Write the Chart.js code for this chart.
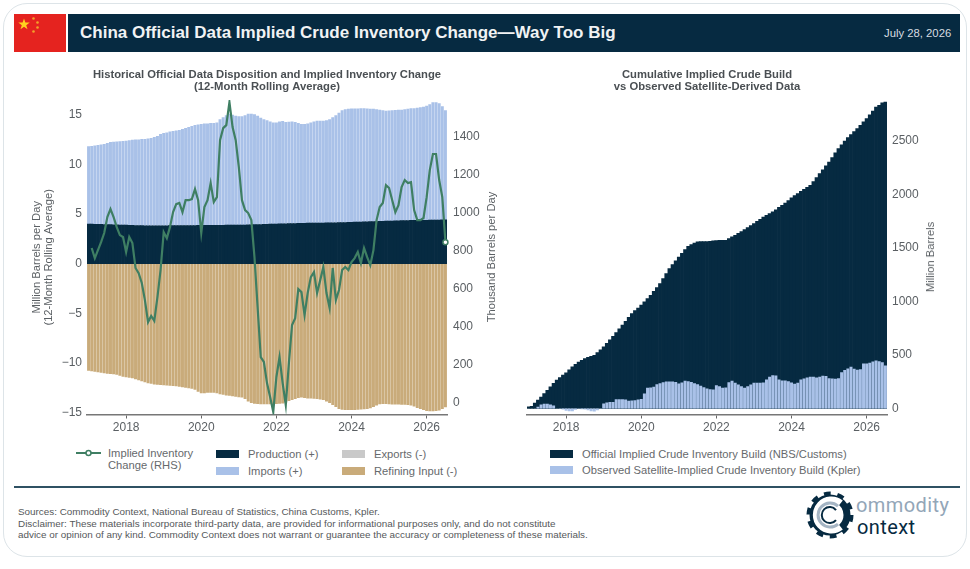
<!DOCTYPE html>
<html>
<head>
<meta charset="utf-8">
<title>China Official Data Implied Crude Inventory Change</title>
<script src="https://cdn.jsdelivr.net/npm/chart.js@4/dist/chart.umd.min.js"></script>
<style>
	html, body { margin: 0; padding: 0; background: #fff; }
	body { width: 970px; height: 569px; position: relative; overflow: hidden; font-family: "Liberation Sans", Arial, sans-serif; color: #5a5f63; }
	.abs { position: absolute; white-space: nowrap; }
	#frame { left: 3px; top: 3px; width: 962px; height: 552px; border: 1px solid #dde4e8; border-radius: 24px; box-sizing: content-box; }
	#bar { left: 68px; top: 13.5px; width: 892px; height: 38.5px; background: #062a41; }
	#titulo { left: 80px; top: 24px; font-size: 17px; line-height: 18px; font-weight: bold; color: #f1f3f4; }
	#data { left: 884px; top: 27px; font-size: 11.3px; line-height: 12px; color: #d6dce0; }
	#regua { left: 14px; top: 486px; width: 946px; height: 2px; background: #2f5163; }
	canvas { position: absolute; }
	.leg { font-size: 11.2px; line-height: 12px; color: #66696c; }
	.sw { position: absolute; width: 23px; height: 8px; }
	.axt { font-size: 11.2px; line-height: 12px; color: #5a5f63; transform: translate(-50%, -50%) rotate(-90deg); }
	.foot { font-size: 9.9px; line-height: 11px; color: #55585a; }
</style>
</head>
<body>
<div class="abs" id="frame"></div>
<svg class="abs" style="left:14px;top:13.5px" width="52" height="38.5" viewBox="0 0 52 38.5">
	<rect width="52" height="38.5" fill="#e5231f"/>
	<polygon fill="#ffd21f" points="10,4.5 11.4,8.6 15.7,8.6 12.2,11.2 13.5,15.3 10,12.8 6.5,15.3 7.8,11.2 4.3,8.6 8.6,8.6"/>
	<circle cx="19.5" cy="4.5" r="1.3" fill="#f2a32a"/>
	<circle cx="23.5" cy="8.5" r="1.3" fill="#f2a32a"/>
	<circle cx="23.5" cy="13.5" r="1.3" fill="#f2a32a"/>
	<circle cx="19.5" cy="17.5" r="1.3" fill="#f2a32a"/>
</svg>
<div class="abs" id="bar"></div>
<div class="abs" id="titulo">China Official Data Implied Crude Inventory Change—Way Too Big</div>
<div class="abs" id="data">July 28, 2026</div>

<canvas id="chartDisposition" width="520" height="380" style="left:0;top:60px;width:520px;height:380px"></canvas>
<canvas id="chartCumulative" width="440" height="380" style="left:500px;top:60px;width:440px;height:380px"></canvas>

<div class="abs axt" style="left:491px;top:257px">Thousand Barrels per Day</div>
<div class="abs axt" style="left:930px;top:257px">Million Barrels</div>

<!-- legenda esquerda -->
<svg class="abs" style="left:76px;top:448px" width="25" height="10">
	<line x1="0" y1="5" x2="25" y2="5" stroke="#3f7f63" stroke-width="2"/>
	<circle cx="12.5" cy="5" r="2.5" fill="#fff" stroke="#3f7f63" stroke-width="1.5"/>
</svg>
<div class="abs leg" style="left:108px;top:447px">Implied Inventory<br>Change (RHS)</div>
<div class="sw" style="left:216px;top:450px;background:#062a41"></div>
<div class="abs leg" style="left:248px;top:448px">Production (+)</div>
<div class="sw" style="left:216px;top:467px;background:#a9c1e8"></div>
<div class="abs leg" style="left:248px;top:465px">Imports (+)</div>
<div class="sw" style="left:342px;top:450px;background:#c9c9c9"></div>
<div class="abs leg" style="left:374px;top:448px">Exports (-)</div>
<div class="sw" style="left:342px;top:467px;background:#c9ab7a"></div>
<div class="abs leg" style="left:374px;top:465px">Refining Input (-)</div>

<!-- legenda direita -->
<div class="sw" style="left:550px;top:450px;background:#062a41"></div>
<div class="abs leg" style="left:582px;top:448px">Official Implied Crude Inventory Build (NBS/Customs)</div>
<div class="sw" style="left:550px;top:466px;background:#a9c1e8"></div>
<div class="abs leg" style="left:582px;top:464px">Observed Satellite-Implied Crude Inventory Build (Kpler)</div>

<div class="abs" id="regua"></div>
<div class="abs foot" style="left:18px;top:506px">Sources: Commodity Context, National Bureau of Statistics, China Customs, Kpler.</div>
<div class="abs foot" style="left:18px;top:518px">Disclaimer: These materials incorporate third-party data, are provided for informational purposes only, and do not constitute</div>
<div class="abs foot" style="left:18px;top:529px">advice or opinion of any kind. Commodity Context does not warrant or guarantee the accuracy or completeness of these materials.</div>

<svg class="abs" style="left:805px;top:490px" width="52" height="52" viewBox="0 0 52 52">
	<circle cx="25" cy="25" r="17" fill="none" stroke="#062a41" stroke-width="7"/>
	<circle cx="25" cy="25" r="21" fill="none" stroke="#062a41" stroke-width="5" stroke-dasharray="6.6 6.6"/>
	<path d="M35 14 A14 14 0 1 0 35 36" fill="none" stroke="#fff" stroke-width="9"/>
	<path d="M33 16 A12 12 0 1 0 33 34" fill="none" stroke="#a5b5c4" stroke-width="3"/>
	<path d="M31 20 A8 8 0 1 0 31 30" fill="none" stroke="#062a41" stroke-width="2"/>
</svg>
<div class="abs" style="left:856px;top:494px;font:20px/22px Roboto,sans-serif;color:#93a6b8;letter-spacing:.4px">ommodity</div>
<div class="abs" style="left:857px;top:516px;font:20px/22px Roboto,sans-serif;color:#062a41;letter-spacing:.4px">ontext</div>

<script>
// mensal, 2017-01 em diante
const meses = [];
for (let i = 0; i < 115; i++) {
	const ano = 2017 + Math.floor(i / 12);
	const mes = String((i % 12) + 1).padStart(2, "0");
	meses.push(ano + "-" + mes);
}

const marcasMbd = [-15, -10, -5, 0, 5, 10, 15];
const marcasKbd = [0, 200, 400, 600, 800, 1000, 1200, 1400];
const marcasAcumulado = [0, 500, 1000, 1500, 2000, 2500];

const producao = [
	3.98,3.97,3.96,3.95,3.95,3.94,3.93,3.92,3.91,3.90,
	3.89,3.88,3.87,3.86,3.85,3.84,3.83,3.82,3.81,3.80,
	3.80,3.80,3.80,3.80,3.81,3.81,3.82,3.82,3.83,3.83,
	3.83,3.83,3.84,3.84,3.84,3.85,3.85,3.85,3.85,3.85,
	3.86,3.86,3.86,3.86,3.87,3.87,3.87,3.87,3.88,3.88,
	3.89,3.90,3.91,3.92,3.93,3.94,3.95,3.96,3.97,3.98,
	3.99,4.00,4.00,4.01,4.02,4.03,4.04,4.05,4.05,4.06,
	4.07,4.07,4.08,4.08,4.09,4.09,4.10,4.10,4.11,4.11,
	4.12,4.13,4.14,4.15,4.16,4.17,4.18,4.19,4.20,4.21,
	4.22,4.23,4.24,4.25,4.26,4.27,4.28,4.29,4.30,4.31,
	4.32,4.33,4.34,4.35,4.35,4.36,4.36,4.37,4.37,4.38,
	4.38,4.39,4.39,4.40,4.40,
];

const importacoes = [
	7.85,7.88,7.94,8.00,8.05,8.11,8.22,8.33,8.37,8.40,
	8.43,8.47,8.51,8.56,8.63,8.66,8.67,8.73,8.75,8.80,
	8.85,8.95,9.05,9.25,9.34,9.39,9.48,9.53,9.57,9.62,
	9.72,9.82,9.91,10.01,10.11,10.15,10.20,10.25,10.27,10.30,
	10.29,10.34,10.69,10.89,11.08,11.23,11.13,11.03,10.97,10.97,
	11.06,11.20,11.19,11.13,10.97,10.76,10.60,10.49,10.33,10.22,
	10.21,10.30,10.35,10.24,10.26,10.27,10.21,10.10,10.00,9.99,
	10.03,10.13,10.22,10.32,10.31,10.31,10.35,10.45,10.64,10.84,
	11.08,11.32,11.41,11.45,11.46,11.45,11.44,11.46,11.45,11.41,
	11.38,11.37,11.31,11.25,11.19,11.13,11.14,11.16,11.18,11.19,
	11.18,11.22,11.26,11.30,11.30,11.34,11.39,11.43,11.53,11.67,
	11.87,11.86,11.76,11.45,11.05,
];

const refino = [
	-10.8,-10.85,-10.9,-10.95,-11.0,-11.05,-11.1,-11.13,-11.15,-11.2,
	-11.3,-11.4,-11.45,-11.5,-11.55,-11.65,-11.75,-11.85,-11.95,-12.05,
	-12.1,-12.17,-12.2,-12.22,-12.25,-12.28,-12.3,-12.34,-12.36,-12.4,
	-12.45,-12.5,-12.55,-12.6,-12.7,-12.9,-13.05,-13.05,-13.0,-13.0,
	-13.0,-13.05,-13.15,-13.2,-13.28,-13.32,-13.35,-13.4,-13.45,-13.5,
	-13.65,-13.9,-14.05,-14.12,-14.15,-14.18,-14.18,-14.18,-14.18,-14.16,
	-14.15,-14.12,-14.08,-14.0,-13.85,-13.75,-13.65,-13.55,-13.5,-13.55,
	-13.58,-13.6,-13.62,-13.65,-13.7,-13.75,-13.9,-14.05,-14.25,-14.45,
	-14.65,-14.72,-14.75,-14.75,-14.75,-14.75,-14.72,-14.7,-14.68,-14.65,
	-14.58,-14.45,-14.3,-14.18,-14.15,-14.15,-14.18,-14.2,-14.2,-14.2,
	-14.22,-14.22,-14.25,-14.3,-14.4,-14.55,-14.65,-14.75,-14.85,-14.88,
	-14.88,-14.85,-14.8,-14.65,-14.48,
];

// exportacoes nao aparecem no desenho, so na legenda
const exportacoes = [];

const variacaoImplicita = [
	null,816,763,805,847,895,979,1021,979,926,
	884,874,795,874,842,711,684,632,542,426,
	458,432,558,700,900,868,926,1005,1047,1053,
	1005,1068,1068,1074,1126,1068,895,1032,1068,1158,
	1058,1084,1384,1447,1463,1584,1453,1384,1242,1068,
	1016,1000,963,768,505,242,216,105,32,-47,
	137,242,105,-11,211,411,447,600,584,463,
	579,663,689,579,647,716,579,500,711,542,
	595,700,716,700,742,763,795,737,816,768,
	726,805,963,1032,1053,1147,1132,1068,1005,1042,
	1137,1174,1158,1163,1016,963,963,974,1084,1226,
	1311,1311,1174,1084,847,
];

const buildOficial = [
	16,20,50,78,108,140,171,203,235,265,
	290,312,333,362,390,414,433,450,467,478,
	488,498,522,548,576,610,643,676,710,745,
	779,815,852,888,915,940,966,997,1028,1059,
	1095,1131,1168,1215,1262,1308,1345,1382,1417,1450,
	1485,1517,1532,1548,1558,1560,1561,1561,1563,1567,
	1570,1572,1573,1573,1590,1605,1620,1638,1655,1673,
	1692,1710,1729,1750,1770,1791,1806,1822,1838,1858,
	1880,1900,1922,1945,1969,1990,2010,2031,2050,2068,
	2087,2122,2160,2196,2232,2268,2305,2347,2390,2430,
	2465,2500,2533,2561,2590,2617,2648,2680,2710,2745,
	2782,2819,2835,2858,2866,
];

const buildKpler = [
	0,0,0,16,37,44,44,37,28,0,
	-3,-9,-22,-25,-25,-12,-3,-6,-9,-16,
	-25,-28,-16,3,47,56,62,62,87,87,
	87,84,72,75,78,84,90,140,193,196,
	203,228,237,246,252,252,252,249,234,243,
	259,256,249,237,228,212,198,188,181,178,
	218,209,193,196,246,259,240,224,209,193,
	209,224,240,240,240,243,271,296,312,309,
	271,262,262,256,243,231,240,271,281,290,
	296,296,290,296,306,303,284,281,278,284,
	340,359,374,390,371,362,368,421,421,427,
	440,449,443,433,402,
];

const corEscura = "#062a41";
const corAzul = "#a9c1e8";
const corBege = "#c9ab7a";
const corVerde = "#3f7f63";
const corCinza = "#c9c9c9";
const corTexto = "#5a5f63";
const fonte = '"Liberation Sans", Arial, sans-serif';

function eixoX() {
	return {
		type: "category",
		stacked: true,
		offset: true,
		afterBuildTicks: (eixo) => {
			// so janeiro dos anos pares
			eixo.ticks = eixo.ticks.filter((t) => {
				const r = meses[t.value];
				return r.endsWith("-01") && Number(r.slice(0, 4)) % 2 == 0;
			});
		},
		afterFit: (eixo) => {
			eixo.height = 25.5;
		},
		ticks: {
			autoSkip: false,
			maxRotation: 0,
			padding: 2,
			color: corTexto,
			font: { family: fonte, size: 12 },
			callback: (valor) => meses[valor].slice(0, 4),
		},
		grid: { drawOnChartArea: false, tickLength: 4, tickColor: "#666", offset: false },
		border: { color: "#777", width: 1.5 },
	};
}

function eixoY(marcas, largura, folga, extra) {
	return Object.assign({
		afterBuildTicks: (eixo) => {
			eixo.ticks = marcas.map((v) => ({ value: v }));
		},
		afterFit: (eixo) => {
			eixo.width = largura;
		},
		ticks: {
			padding: folga,
			color: corTexto,
			font: { family: fonte, size: 12 },
			callback: (v) => String(v).replace("-", "\u2212"),
		},
		grid: { display: false, drawTicks: false },
		border: { display: false },
	}, extra);
}

function tituloGrafico(linhas) {
	return {
		display: true,
		fullSize: false,
		text: linhas,
		color: "#4a4f53",
		padding: { top: 9, bottom: 7 },
		font: { family: fonte, size: 11.25, weight: "bold", lineHeight: 1.07 },
	};
}

const graficoDisposicao = new Chart(document.getElementById("chartDisposition"), {
	type: "bar",
	data: {
		labels: meses,
		datasets: [
			{
				type: "line",
				label: "Implied Inventory Change (RHS)",
				data: variacaoImplicita,
				yAxisID: "y1",
				borderColor: corVerde,
				borderWidth: 2.2,
				tension: 0,
				order: 0,
				pointRadius: (ctx) => (ctx.dataIndex == meses.length - 1 ? 2.5 : 0),
				pointBackgroundColor: "#fff",
				pointBorderColor: corVerde,
				pointBorderWidth: 1.5,
			},
			{ label: "Production (+)", data: producao, backgroundColor: corEscura, barPercentage: 1, order: 2 },
			{ label: "Imports (+)", data: importacoes, backgroundColor: corAzul, barPercentage: 0.95, order: 2 },
			{ label: "Exports (-)", data: exportacoes, backgroundColor: corCinza, order: 2 },
			{ label: "Refining Input (-)", data: refino, backgroundColor: corBege, barPercentage: 0.95, order: 2 },
		],
	},
	options: {
		responsive: false,
		animation: false,
		datasets: { bar: { categoryPercentage: 1, borderWidth: 0 } },
		layout: { padding: 0 },
		plugins: {
			legend: { display: false },
			tooltip: { enabled: false },
			title: tituloGrafico(["Historical Official Data Disposition and Implied Inventory Change", "(12-Month Rolling Average)"]),
		},
		scales: {
			x: eixoX(),
			y: eixoY(marcasMbd, 87, 5, {
				stacked: true,
				min: -15.2,
				max: 16.47,
				title: {
					display: true,
					text: ["Million Barrels per Day", "(12-Month Rolling Average)"],
					color: corTexto,
					padding: { top: 31, bottom: 0 },
					font: { family: fonte, size: 11.2, lineHeight: 1.05 },
				},
			}),
			y1: eixoY(marcasKbd, 73, 6, { position: "right", min: -60.5, max: 1595 }),
		},
	},
});

const graficoAcumulado = new Chart(document.getElementById("chartCumulative"), {
	type: "bar",
	data: {
		labels: meses,
		datasets: [
			{ label: "Observed Satellite-Implied Crude Inventory Build (Kpler)", data: buildKpler, backgroundColor: corAzul, barPercentage: 0.95, order: 1, grouped: false },
			{ label: "Official Implied Crude Inventory Build (NBS/Customs)", data: buildOficial, backgroundColor: corEscura, barPercentage: 1, order: 2, grouped: false },
		],
	},
	options: {
		responsive: false,
		animation: false,
		datasets: { bar: { categoryPercentage: 1, borderWidth: 0 } },
		layout: { padding: { left: 27 } },
		plugins: {
			legend: { display: false },
			tooltip: { enabled: false },
			title: tituloGrafico(["Cumulative Implied Crude Build", "vs Observed Satellite-Derived Data"]),
		},
		scales: {
			x: Object.assign(eixoX(), { stacked: false }),
			y: eixoY(marcasAcumulado, 53, 5, { position: "right", min: -56, max: 2884 }),
		},
	},
});
</script>
</body>
</html>
